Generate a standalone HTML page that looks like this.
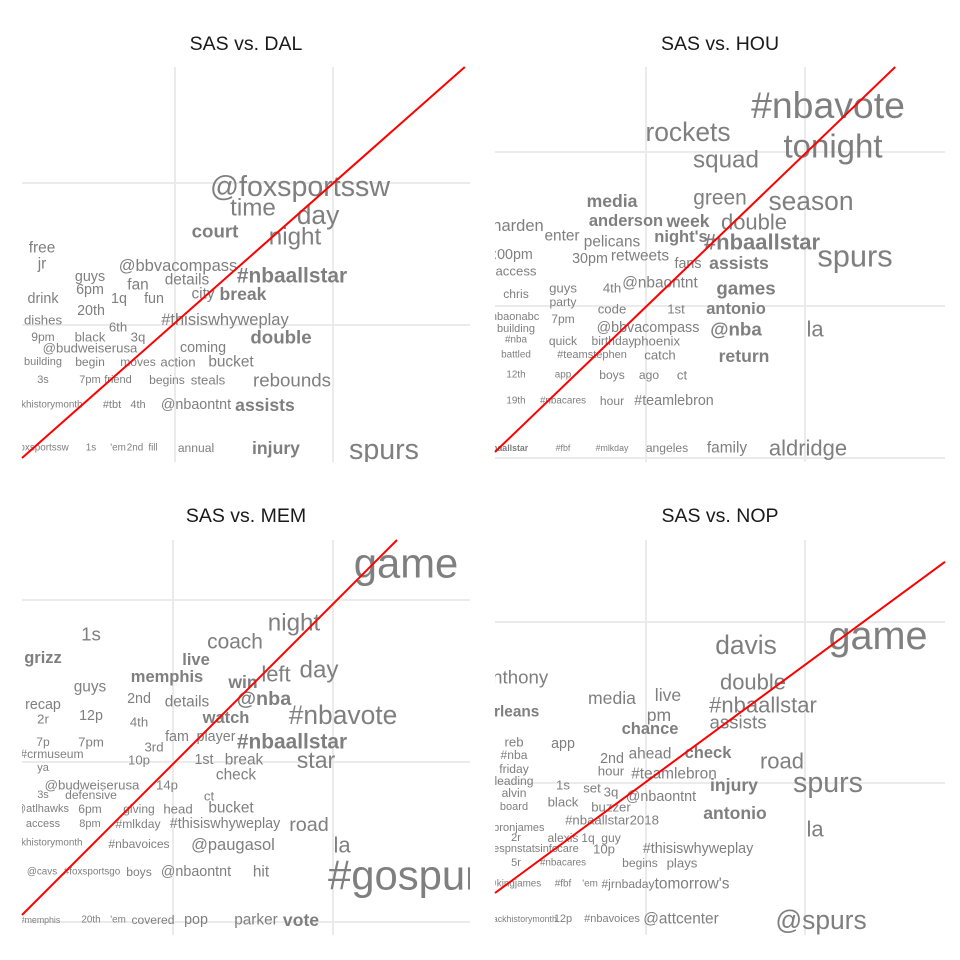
<!DOCTYPE html>
<html><head><meta charset="utf-8">
<style>
html,body{margin:0;padding:0;background:#fff;}
svg{display:block;font-family:"Liberation Sans",Arial,sans-serif;}
.w{fill:#7f7f7f;}
</style></head>
<body>
<svg id="chart" width="960" height="960" viewBox="0 0 960 960"></svg>
<script>
// ---- DATA (x,y in score units; size in pt-like units) ----
const titles = ["SAS vs. DAL","SAS vs. HOU","SAS vs. MEM","SAS vs. NOP"];

const dalWords = ["@foxsportssw","time","day","court","night","free","jr","@bbvacompass","#nbaallstar","guys","fan","details","6pm","city","break","drink","1q","fun","20th","#thisiswhyweplay","dishes","6th","double","9pm","black","3q","@budweiserusa","coming","building","begin","moves","action","bucket","3s","7pm","friend","begins","steals","rebounds","#blackhistorymonth","#tbt","4th","@nbaontnt","assists","#foxsportssw","1s","'em","2nd","fill","annual","injury","spurs"];
const dalX = [278,231,296,193,273,20,20,156,270,68,116,165,68,181,221,21,97,132,69,203,21,96,259,21,68,116,68,181,21,68,116,156,209,21,68,96,145,186,270,18,90,116,174,243,18,69,96,113,131,174,254,362];
const dalY = [275,254,247,231,225,214,198,196,186,185,177,182,172,168,168,163,163,163,151,142,142,135,125,125,125,125,114,114,100,100,100,100,100,82,82,82,82,82,82,57,57,57,57,57,14,14,14,14,14,14,14,12];
const dalSize = [26,22,24,17,22,14,14,15,19,13,14,14,13,14,16,13,13,13,13,15,12,12,17,11,12,12,12,13,10,11,11,12,14,10,10,10,11,12,17,9,10,10,13,16,9,9,9,9,9,11,16,26];
const dalBold = ["court","#nbaallstar","break","double","assists","injury"];

const houWords = ["#nbavote","rockets","tonight","squad","green","season","media","anderson","week","double","harden","enter","pelicans","night's","#nbaallstar","spurs","2:00pm","30pm","retweets","fans","assists","access","guys","4th","@nbaontnt","games","chris","party","code","1st","antonio","la","#nbaonabc","7pm","building","@bbvacompass","@nba","#nba","quick","birthday","phoenix","battled","#teamstephen","catch","return","12th","app","boys","ago","ct","19th","#nbacares","hour","#teamlebron","#nbaallstar","#fbf","#mlkday","angeles","family","aldridge"];
const houX = [333,193,338,231,225,316,117,131,193,259,23,67,117,186,267,360,14,95,145,193,244,21,68,117,165,251,21,68,117,181,241,320,17,68,21,153,241,21,68,118,162,21,97,165,249,21,68,117,154,187,21,68,117,179,10,68,117,172,232,313];
const houY = [357,330,316,302,264,261,261,241,241,240,236,226,220,225,220,206,207,203,206,198,199,191,174,174,179,174,168,160,153,153,153,133,145,143,133,134,133,122,121,121,121,107,107,107,106,87,87,87,87,87,61,61,61,61,14,14,14,14,14,14];
const houSize = [34,24,30,22,19,24,16,15,16,20,15,14,14,15,20,28,13,13,14,13,16,12,12,12,14,17,11,11,12,12,15,20,10,11,10,13,17,9,11,11,12,9,10,12,16,9,9,11,11,12,9,9,11,13,8,8,8,11,14,20];
const houBold = ["media","anderson","week","night's","#nbaallstar","assists","games","antonio","@nba","return"];

const memWords = ["game","night","1s","coach","grizz","live","left","day","memphis","win","guys","2nd","details","@nba","recap","#nbavote","2r","12p","4th","watch","7p","7pm","fam","player","3rd","#nbaallstar","#crmuseum","1st","10p","break","star","ya","check","@budweiserusa","14p","3s","defensive","ct","@atlhawks","6pm","giving","head","bucket","access","8pm","#mlkday","#thisiswhyweplay","road","#blackhistorymonth","#nbavoices","@paugasol","la","#gospurs","@cavs","#foxsportsgo","boys","@nbaontnt","hit","#memphis","20th","'em","covered","pop","parker","vote"];
const memX = [384,272,69,213,21,174,254,297,145,221,68,117,165,242,21,321,21,69,117,204,21,69,155,194,132,270,30,182,117,222,294,21,214,70,145,21,69,187,20,68,117,156,209,21,68,116,203,287,18,117,211,320,392,20,70,117,174,239,18,69,96,131,174,234,279];
const memY = [372,312,301,293,277,275,261,265,258,253,248,236,233,236,230,220,216,219,213,217,193,193,198,198,188,193,181,175,175,175,175,167,160,150,150,140,140,139,126,126,126,126,127,111,111,111,111,110,92,91,90,90,60,63,63,63,63,63,15,15,15,15,15,15,15];
const memSize = [38,22,17,19,15,15,20,22,15,16,14,13,14,18,13,24,12,13,12,15,11,12,13,13,12,19,11,13,12,14,21,10,14,12,12,10,11,12,10,11,11,12,14,10,10,11,13,18,9,11,15,20,38,9,9,11,13,14,8,9,9,11,13,14,16];
const memBold = ["grizz","live","memphis","win","@nba","watch","#nbaallstar","vote"];

const nopWords = ["game","davis","double","anthony","media","live","#nbaallstar","pm","orleans","chance","assists","reb","app","ahead","check","2nd","road","#nba","friday","hour","#teamlebron","spurs","leading","1s","injury","alvin","set","3q","@nbaontnt","black","buzzer","board","antonio","#nbaallstar2018","la","@lebronjames","2r","alexis","1q","guy","care","@espnstatsinfo","10p","#thisiswhyweplay","5r","#nbacares","begins","plays","@kingjames","#fbf","'em","#jrnbaday","tomorrow's","#blackhistorymonth","12p","#nbavoices","@attcenter","@spurs"];
const nopX = [383,251,258,20,117,173,268,164,17,155,243,19,68,155,213,117,287,19,19,116,179,333,19,68,239,19,97,116,166,68,116,19,240,117,320,14,21,68,93,116,73,25,109,203,21,68,145,187,19,68,95,133,197,24,68,117,186,326];
const nopY = [299,290,253,258,237,240,230,220,223,206,213,193,191,181,182,176,174,180,166,164,161,152,154,150,150,142,147,143,138,133,128,128,122,115,106,107,97,97,97,97,86,86,86,86,72,72,72,72,51,51,51,51,51,16,16,16,16,15];
const nopSize = [36,24,20,17,16,16,20,16,14,15,17,12,13,14,15,13,20,11,11,12,14,26,11,12,16,11,12,12,13,12,12,10,16,12,20,10,10,11,11,11,10,10,12,13,10,9,11,12,9,9,9,11,14,8,10,10,14,24];
const nopBold = ["orleans","chance","check","injury","antonio"];

// reference line: y = intercept + slope * x
const lineIntercepts = [4,10,20,42];
const lineSlopes = [0.883,0.962,1.0,0.736];

// grid ticks (score units)
const gridX = [[153,311],[151,310],[151,311],[151,310]];
const gridY = [[279,137],[310,156,4],[335,173,13],[313,152]];

// ---- LAYOUT ----
const panels = [
  {left:22,top:67,w:448,h:395,tx:246,ty:44},
  {left:495,top:67,w:450,h:395,tx:720,ty:44},
  {left:22,top:540,w:448,h:395,tx:246,ty:516},
  {left:495,top:540,w:450,h:395,tx:720,ty:516}
];
const wordSets = [
  [dalWords,dalX,dalY,dalSize,dalBold],
  [houWords,houX,houY,houSize,houBold],
  [memWords,memX,memY,memSize,memBold],
  [nopWords,nopX,nopY,nopSize,nopBold]
];
const NS="http://www.w3.org/2000/svg";
const svg=document.getElementById('chart');
function mk(t,a,p){const e=document.createElementNS(NS,t);for(const k in a)e.setAttribute(k,a[k]);(p||svg).appendChild(e);return e;}
const defs=mk('defs',{});
panels.forEach((p,i)=>{
  const xs=v=>p.left+v;           // x axis function
  const ys=v=>p.top+p.h-v;        // y axis function
  const g=mk('g',{});
  
  
  const cp=mk('clipPath',{id:'c'+i},defs);
  mk('rect',{x:p.left,y:p.top,width:p.w,height:p.h},cp);
  const t=mk('text',{x:p.tx,y:p.ty,'text-anchor':'middle','dominant-baseline':'central','font-size':'19.5',fill:'#1a1a1a'},g);
  t.textContent=titles[i];
  
  
  const gg=mk('g',{'clip-path':'url(#c'+i+')'},g);
  
  
  gridX[i].forEach(v=>mk('line',{x1:xs(v),x2:xs(v),y1:p.top,y2:p.top+p.h,stroke:'#ebebeb','stroke-width':2},gg));
  gridY[i].forEach(v=>mk('line',{x1:p.left,x2:p.left+p.w,y1:ys(v),y2:ys(v),stroke:'#ebebeb','stroke-width':2},gg));
  const wg=mk('g',{'clip-path':'url(#c'+i+')'},g);
  const [W,X,Y,S,B]=wordSets[i];
  W.forEach((w,j)=>{
    const e=mk('text',{x:xs(X[j]),y:ys(Y[j]),'text-anchor':'middle','dominant-baseline':'central','font-size':(S[j]*1.1).toFixed(1),class:'w','font-weight':B.includes(w)?'bold':'normal'},wg);
    e.textContent=w;
    
    
  });
  // red line
  const b=lineIntercepts[i],m=lineSlopes[i];
  let x2=p.w, y2=b+m*x2;
  if(y2>p.h){y2=p.h;x2=(p.h-b)/m;}
  const l=mk('line',{x1:xs(0),y1:ys(b),x2:xs(x2),y2:ys(y2),stroke:'#ff0000','stroke-width':2},g);
  
  
});
</script>
</body></html>
